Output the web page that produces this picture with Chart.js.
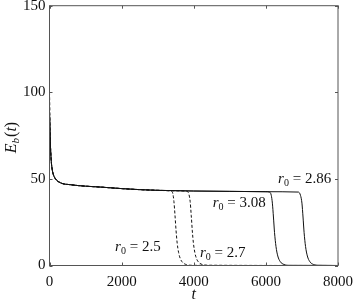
<!DOCTYPE html>
<html>
<head>
<meta charset="utf-8">
<script src="https://cdn.jsdelivr.net/npm/chart.js@4/dist/chart.umd.min.js"></script>
<style>
html,body{margin:0;padding:0;background:#fff;}
#wrap{width:354px;height:300px;position:relative;}
</style>
</head>
<body>
<div id="wrap"><canvas id="c" width="354" height="300"></canvas></div>
<script>
// ---- data ----
const xTicks = [0, 2000, 4000, 6000, 8000];
const yTicks = [0, 50, 100, 150];

// shared early decay (t, E_b)
const earlyT = [10, 25, 50, 75, 100, 150, 300, 600, 1000, 1400, 2000, 2500, 3000];
const earlyE = [82, 70, 60, 55.5, 53, 50.5, 47.8, 46.6, 45.8, 45.3, 44.4, 43.8, 43.4];

// r0 = 2.5 (dashed)
const startE_25 = 100;
const tailT_25 = [3300, 3380, 3420, 3450, 3480, 3510, 3540, 3580, 3630, 3700, 3800, 3950, 8000];
const tailE_25 = [43.2, 42.9, 41.5, 37, 29, 20, 13, 7.5, 3.8, 1.6, 0.5, 0.1, 0];

// r0 = 2.7 (dashed)
const startE_27 = 100;
const tailT_27 = [3500, 3800, 3860, 3900, 3930, 3960, 3990, 4030, 4080, 4150, 4250, 4400, 8000];
const tailE_27 = [43.1, 42.9, 41.5, 37, 29, 20, 13, 7.5, 3.8, 1.6, 0.5, 0.1, 0];

// r0 = 3.08 (solid)
const startE_308 = 88;
const tailT_308 = [4000, 5000, 6000, 6100, 6150, 6180, 6210, 6240, 6280, 6330, 6400, 6500, 6650, 8000];
const tailE_308 = [43.0, 42.8, 42.6, 42.4, 40.5, 36, 28, 19, 11, 5.5, 2.2, 0.6, 0.1, 0];

// r0 = 2.86 (solid)
const startE_286 = 88;
const tailT_286 = [4000, 5000, 6000, 6900, 6960, 7000, 7030, 7060, 7100, 7150, 7220, 7320, 7470, 8000];
const tailE_286 = [43.0, 42.8, 42.6, 42.4, 40.5, 36, 28, 19, 11, 5.5, 2.2, 0.6, 0.1, 0];

const labels = [
  {txt: '2.5',  t: 2450, e: 10.7},
  {txt: '2.7',  t: 4805, e: 7.2},
  {txt: '3.08', t: 5260, e: 36},
  {txt: '2.86', t: 7075, e: 50}
];

function build(e0, tT, tE) {
  const pts = [{x: 0, y: e0}];
  earlyT.forEach((t, i) => pts.push({x: t, y: earlyE[i]}));
  tT.forEach((t, i) => pts.push({x: t, y: tE[i]}));
  return pts;
}

const FONT = "'Liberation Serif', 'Times New Roman', serif";

const decor = {
  id: 'decor',
  afterDraw(chart) {
    const ctx = chart.ctx;
    const a = chart.chartArea;
    const xs = chart.scales.x, ys = chart.scales.y;
    ctx.save();
    // frame
    ctx.strokeStyle = '#555';
    ctx.lineWidth = 1;
    ctx.strokeRect(a.left, a.top, a.right - a.left, a.bottom - a.top);
    // inward ticks on all sides
    ctx.beginPath();
    xTicks.forEach(v => {
      const px = Math.round(xs.getPixelForValue(v)) + 0.5;
      ctx.moveTo(px, a.bottom); ctx.lineTo(px, a.bottom - 3);
      ctx.moveTo(px, a.top); ctx.lineTo(px, a.top + 3);
    });
    yTicks.forEach(v => {
      const py = Math.round(ys.getPixelForValue(v)) + 0.5;
      ctx.moveTo(a.left, py); ctx.lineTo(a.left + 3, py);
      ctx.moveTo(a.right, py); ctx.lineTo(a.right - 3, py);
    });
    ctx.stroke();

    ctx.fillStyle = '#111';
    ctx.textBaseline = 'middle';
    // r0 labels
    labels.forEach(L => {
      const cx = xs.getPixelForValue(L.t);
      const cy = ys.getPixelForValue(L.e);
      ctx.font = 'italic 15px ' + FONT;
      const wr = ctx.measureText('r').width;
      ctx.font = '10px ' + FONT;
      const w0 = ctx.measureText('0').width;
      ctx.font = '15px ' + FONT;
      const rest = ' = ' + L.txt;
      const wrest = ctx.measureText(rest).width;
      let x = cx - (wr + w0 + wrest) / 2;
      ctx.textAlign = 'left';
      ctx.font = 'italic 15px ' + FONT;
      ctx.fillText('r', x, cy); x += wr;
      ctx.font = '10px ' + FONT;
      ctx.fillText('0', x, cy + 4); x += w0;
      ctx.font = '15px ' + FONT;
      ctx.fillText(rest, x, cy);
    });

    // x title
    ctx.textAlign = 'center';
    ctx.font = 'italic 16px ' + FONT;
    ctx.fillText('t', (a.left + a.right) / 2, 295);

    // y title (rotated)
    ctx.save();
    ctx.translate(12, 138);
    ctx.rotate(-Math.PI / 2);
    ctx.font = 'italic 16px ' + FONT;
    const wE = ctx.measureText('E').width;
    ctx.font = 'italic 11px ' + FONT;
    const wb = ctx.measureText('b').width;
    ctx.font = '16px ' + FONT;
    const wp1 = ctx.measureText('(').width;
    const wp2 = ctx.measureText(')').width;
    ctx.font = 'italic 16px ' + FONT;
    const wt = ctx.measureText('t').width;
    let x = -(wE + wb + wp1 + wt + wp2) / 2;
    ctx.textAlign = 'left';
    ctx.font = 'italic 16px ' + FONT; ctx.fillText('E', x, 0); x += wE;
    ctx.font = 'italic 11px ' + FONT; ctx.fillText('b', x, 4); x += wb + 1;
    ctx.font = '16px ' + FONT; ctx.fillText('(', x, 0); x += wp1;
    ctx.font = 'italic 16px ' + FONT; ctx.fillText('t', x, 0); x += wt;
    ctx.font = '16px ' + FONT; ctx.fillText(')', x, 0);
    ctx.restore();
    ctx.restore();
  }
};

const lineStyle = (data, dash) => ({
  data, borderColor: '#111', borderWidth: 1, borderDash: dash,
  pointRadius: 0, cubicInterpolationMode: 'monotone', fill: false
});

new Chart(document.getElementById('c'), {
  type: 'line',
  data: {
    datasets: [
      lineStyle(build(startE_25, tailT_25, tailE_25), [3, 2]),
      lineStyle(build(startE_27, tailT_27, tailE_27), [3, 2]),
      lineStyle(build(startE_308, tailT_308, tailE_308), []),
      lineStyle(build(startE_286, tailT_286, tailE_286), [])
    ]
  },
  options: {
    responsive: false,
    animation: false,
    layout: {padding: {left: 0, right: 16, top: 5.7, bottom: 0}},
    plugins: {legend: {display: false}, tooltip: {enabled: false}},
    scales: {
      x: {
        type: 'linear', min: 0, max: 8000,
        afterBuildTicks: s => { s.ticks = xTicks.map(v => ({value: v})); },
        afterFit: s => { s.height = 34.5; s.paddingLeft = 0; s.paddingRight = 0; s.paddingTop = 0; s.paddingBottom = 0; },
        grid: {display: false, drawTicks: false},
        border: {display: false},
        ticks: {color: '#111', font: {family: FONT, size: 15}, padding: 8, maxRotation: 0, autoSkip: false,
                callback: v => String(v)}
      },
      y: {
        type: 'linear', min: 0, max: 150,
        afterBuildTicks: s => { s.ticks = yTicks.map(v => ({value: v})); },
        afterFit: s => { s.width = 49.5; s.paddingLeft = 0; s.paddingRight = 0; s.paddingTop = 0; s.paddingBottom = 0; },
        grid: {display: false, drawTicks: false},
        border: {display: false},
        ticks: {color: '#111', font: {family: FONT, size: 15}, padding: 4, callback: v => String(v)}
      }
    }
  },
  plugins: [decor]
});
</script>
</body>
</html>
